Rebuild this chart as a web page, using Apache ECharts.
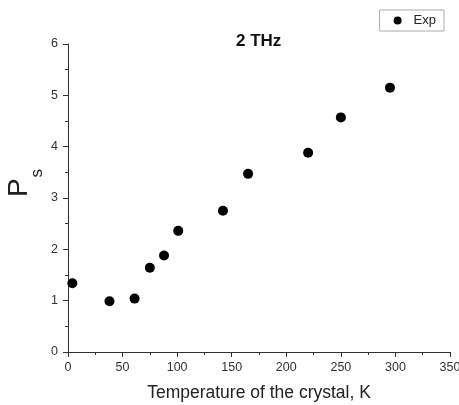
<!DOCTYPE html>
<html>
<head>
<meta charset="utf-8">
<script src="https://cdn.jsdelivr.net/npm/echarts@6/dist/echarts.min.js"></script>
<style>
  html, body { margin: 0; padding: 0; background: #fff; }
  #chart { width: 459px; height: 405px; }
</style>
</head>
<body>
<div id="chart"></div>
<script>
// temperature (K) and measured P_s
var temps = [4, 38, 61, 75, 88, 101, 142, 165, 220, 250, 295];
var ps = [1.34, 0.99, 1.04, 1.64, 1.88, 2.36, 2.75, 3.47, 3.88, 4.57, 5.15];
var seriesName = 'Exp';
var titleText = '2 THz';

var points = temps.map(function (t, i) { return [t, ps[i]]; });

var font = 'Liberation Sans, Arial, sans-serif';
var axisColor = '#333';
var chart = echarts.init(document.getElementById('chart'));

chart.setOption({
  animation: false,
  backgroundColor: '#fff',
  title: {
    text: titleText,
    left: 231,
    top: 28,
    textStyle: { fontFamily: font, fontSize: 17, fontWeight: 'bold', color: '#111' }
  },
  legend: {
    data: [seriesName],
    right: 15,
    top: 10,
    itemWidth: 8,
    itemHeight: 8,
    padding: [4, 8, 4, 14],
    borderColor: '#aaa',
    borderWidth: 1,
    textStyle: { fontFamily: font, fontSize: 13, color: '#222', padding: [0, 0, 0, 7] }
  },
  grid: { left: 68, right: 9, top: 44, bottom: 53, containLabel: false, outerBoundsMode: 'none' },
  xAxis: {
    type: 'value',
    min: 0,
    max: 350,
    interval: 50,
    name: 'Temperature of the crystal, K',
    nameLocation: 'middle',
    nameGap: 32,
    nameTextStyle: { fontFamily: font, fontSize: 17.5, color: '#222' },
    axisLine: { show: true, lineStyle: { color: axisColor, width: 1 } },
    axisTick: { show: true, inside: false, length: 5, lineStyle: { color: axisColor } },
    minorTick: { show: true, splitNumber: 2, length: 3, lineStyle: { color: axisColor } },
    splitLine: { show: false },
    axisLabel: { fontFamily: font, fontSize: 12.5, color: '#333', margin: 9, showMaxLabel: true }
  },
  yAxis: {
    type: 'value',
    min: 0,
    max: 6,
    interval: 1,
    name: '{p|P}{s|s}',
    nameLocation: 'middle',
    nameRotate: 90,
    nameGap: 22,
    nameMoveOverlap: false,
    nameTextStyle: {
      fontFamily: font,
      color: '#222',
      rich: {
        p: { fontFamily: font, fontSize: 28, color: '#222', padding: [0, 0, 0, 30] },
        s: { fontFamily: font, fontSize: 17, color: '#222', padding: [36, 0, 0, 1] }
      }
    },
    axisLine: { show: true, lineStyle: { color: axisColor, width: 1 } },
    axisTick: { show: true, inside: false, length: 5, lineStyle: { color: axisColor } },
    minorTick: { show: true, splitNumber: 2, length: 3, lineStyle: { color: axisColor } },
    splitLine: { show: false },
    axisLabel: { fontFamily: font, fontSize: 12.5, color: '#333', margin: 10 }
  },
  series: [{
    name: seriesName,
    type: 'scatter',
    symbol: 'circle',
    symbolSize: 10,
    itemStyle: { color: '#000', opacity: 1 },
    data: points
  }]
});
</script>
</body>
</html>
